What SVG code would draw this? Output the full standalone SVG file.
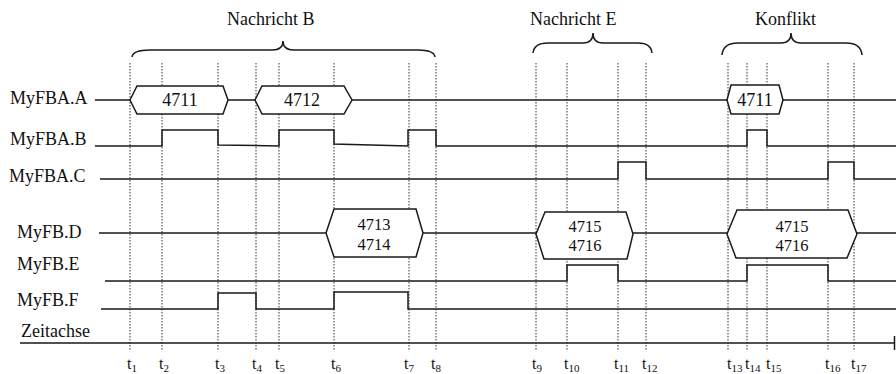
<svg xmlns="http://www.w3.org/2000/svg" width="896" height="374" viewBox="0 0 896 374" font-family="'Liberation Serif', 'Times New Roman', serif">
  <style>
    text { font-family: "Liberation Serif", "Times New Roman", serif; fill: #111; }
    .lbl { font-size: 18px; }
    .val { font-size: 18px; text-anchor: middle; }
    .val2 { font-size: 16.5px; text-anchor: middle; }
    .tl { font-size: 16px; }
    .sub { font-size: 11px; }
    .sig { fill: none; stroke: #1a1a1a; stroke-width: 1.5; stroke-linejoin: miter; }
    .bus { fill: #fff; stroke: #1a1a1a; stroke-width: 1.5; }
    .grid { stroke: #333; stroke-width: 1; stroke-dasharray: 1.5 1.5; }
    .brace { fill: none; stroke: #1a1a1a; stroke-width: 1.5; }
  </style>

  <!-- dotted time markers t1..t17 -->
  <g id="connectors">
    <line class="grid" x1="130" y1="63" x2="130" y2="350"/>
    <line class="grid" x1="162" y1="63" x2="162" y2="350"/>
    <line class="grid" x1="218" y1="63" x2="218" y2="350"/>
    <line class="grid" x1="256" y1="63" x2="256" y2="350"/>
    <line class="grid" x1="279" y1="63" x2="279" y2="350"/>
    <line class="grid" x1="334" y1="63" x2="334" y2="350"/>
    <line class="grid" x1="409" y1="63" x2="409" y2="350"/>
    <line class="grid" x1="436" y1="63" x2="436" y2="350"/>
    <line class="grid" x1="536" y1="63" x2="536" y2="350"/>
    <line class="grid" x1="567" y1="63" x2="567" y2="350"/>
    <line class="grid" x1="618" y1="63" x2="618" y2="350"/>
    <line class="grid" x1="646" y1="63" x2="646" y2="350"/>
    <line class="grid" x1="728" y1="63" x2="728" y2="350"/>
    <line class="grid" x1="747" y1="63" x2="747" y2="350"/>
    <line class="grid" x1="767" y1="63" x2="767" y2="350"/>
    <line class="grid" x1="828" y1="63" x2="828" y2="350"/>
    <line class="grid" x1="854" y1="63" x2="854" y2="350"/>
  </g>

  <!-- braces with their captions -->
  <g id="brace-b">
    <path class="brace" d="M132,57 Q133,50 150,50 L272,50 Q283,50 283,41 Q283,50 294,50 L418,50 Q434,50 435,57"/>
    <text class="lbl" x="227" y="25">Nachricht B</text>
  </g>
  <g id="brace-e">
    <path class="brace" d="M533,53 Q534,43 548,43 L583,43 Q593,43 593,33 Q593,43 603,43 L638,43 Q651,43 652,53"/>
    <text class="lbl" x="530" y="25">Nachricht E</text>
  </g>
  <g id="brace-konflikt">
    <path class="brace" d="M722,55 Q723,43 738,43 L781,43 Q791,43 791,33 Q791,43 801,43 L846,43 Q861,43 862,55"/>
    <text class="lbl" x="755" y="25">Konflikt</text>
  </g>

  <g id="myfba-a">
    <text class="lbl" x="10" y="104">MyFBA.A</text>
    <path class="sig" d="M95,100 H130 M228,100 H255 M352,100 H727 M783,100 H896"/>
    <polygon class="bus" points="130,100 137,86 223,86 228,100 223,114 137,114"/>
    <text class="val" x="180" y="106">4711</text>
    <polygon class="bus" points="255,100 262,86 344,86 352,100 344,114 262,114"/>
    <text class="val" x="302" y="106">4712</text>
    <polygon class="bus" points="727,100 731,85 779,85 783,100 779,114 731,114"/>
    <text class="val" x="755" y="106">4711</text>
  </g>

  <g id="myfba-b">
    <text class="lbl" x="10" y="145">MyFBA.B</text>
    <path class="sig" d="M95,146 H162 V130 H218 V145 L279,146 V130 H334 V144 L408,146 V130 H436 V146 H747 V130 H767 V146 H896"/>
  </g>

  <g id="myfba-c">
    <text class="lbl" x="9" y="182">MyFBA.C</text>
    <path class="sig" d="M100,179 H618 V162 H646 V179 H828 V162 H854 V179 H896"/>
  </g>

  <g id="myfb-d">
    <text class="lbl" x="17" y="238">MyFB.D</text>
    <path class="sig" d="M99,233 H326 M423,233 H536 M633,233 H727 M857,233 H896"/>
    <polygon class="bus" points="326,233 334,209 416,209 423,233 416,257 334,257"/>
    <text class="val2" x="374" y="230">4713</text>
    <text class="val2" x="374" y="250">4714</text>
    <polygon class="bus" points="536,234 545,212 626,212 633,234 627,259 544,259"/>
    <text class="val2" x="585" y="232">4715</text>
    <text class="val2" x="585" y="251">4716</text>
    <polygon class="bus" points="727,234 737,210 848,210 857,234 847,258 736,258"/>
    <text class="val2" x="792" y="232">4715</text>
    <text class="val2" x="792" y="251">4716</text>
  </g>

  <g id="myfb-e">
    <text class="lbl" x="17" y="270">MyFB.E</text>
    <path class="sig" d="M105,281 H567 V265 H618 V281 H747 V265 H828 V281 H896"/>
  </g>

  <g id="myfb-f">
    <text class="lbl" x="17" y="306">MyFB.F</text>
    <path class="sig" d="M101,309 H218 V293 H256 V309 H334 V292 H408 V309 H896"/>
  </g>

  <g id="zeitachse">
    <text class="lbl" x="21" y="337">Zeitachse</text>
    <path class="sig" d="M20,343 H894 M894.5,336 V350"/>
  </g>

  <!-- time labels -->
  <g id="time-labels">
    <text class="tl" x="127" y="369">t<tspan class="sub" dy="3">1</tspan></text>
    <text class="tl" x="159" y="369">t<tspan class="sub" dy="3">2</tspan></text>
    <text class="tl" x="215" y="369">t<tspan class="sub" dy="3">3</tspan></text>
    <text class="tl" x="252" y="369">t<tspan class="sub" dy="3">4</tspan></text>
    <text class="tl" x="275" y="369">t<tspan class="sub" dy="3">5</tspan></text>
    <text class="tl" x="331" y="369">t<tspan class="sub" dy="3">6</tspan></text>
    <text class="tl" x="404" y="369">t<tspan class="sub" dy="3">7</tspan></text>
    <text class="tl" x="431" y="369">t<tspan class="sub" dy="3">8</tspan></text>
    <text class="tl" x="532" y="369">t<tspan class="sub" dy="3">9</tspan></text>
    <text class="tl" x="564" y="369">t<tspan class="sub" dy="3">10</tspan></text>
    <text class="tl" x="614" y="369">t<tspan class="sub" dy="3">11</tspan></text>
    <text class="tl" x="642" y="369">t<tspan class="sub" dy="3">12</tspan></text>
    <text class="tl" x="727" y="369">t<tspan class="sub" dy="3">13</tspan></text>
    <text class="tl" x="745" y="369">t<tspan class="sub" dy="3">14</tspan></text>
    <text class="tl" x="766" y="369">t<tspan class="sub" dy="3">15</tspan></text>
    <text class="tl" x="825" y="369">t<tspan class="sub" dy="3">16</tspan></text>
    <text class="tl" x="851" y="369">t<tspan class="sub" dy="3">17</tspan></text>
  </g>
</svg>
